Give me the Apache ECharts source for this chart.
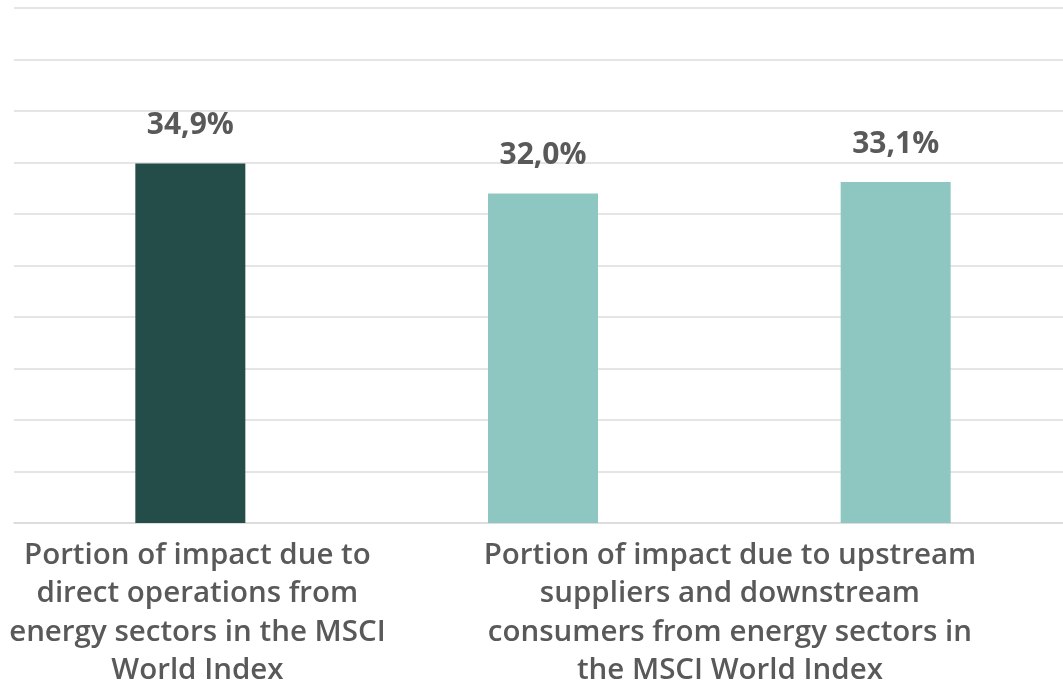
<!DOCTYPE html>
<html>
<head>
<meta charset="utf-8">
<script src="https://cdn.jsdelivr.net/npm/echarts@6/dist/echarts.min.js"></script>
<style>
  html, body { margin: 0; padding: 0; background: #ffffff; }
  #chart { width: 1063px; height: 686px; }
</style>
</head>
<body>
<div id="chart"></div>
<script>
// Share of impact: direct operations vs. upstream / downstream value chain
const barKeys = ['direct', 'upstream', 'downstream'];
const barValues = [34.9, 32.0, 33.1];
const barColors = ['#244c49', '#8ec7c1', '#8ec7c1'];

// Group labels: the first sits under bar 1, the second spans bars 2 and 3
const groupLabels = [
  'Portion of impact due to\ndirect operations from\nenergy sectors in the MSCI\nWorld Index',
  'Portion of impact due to upstream\nsuppliers and downstream\nconsumers from energy sectors in\nthe MSCI World Index'
];
// Positions of the group labels on a 0..3 scale (bar slots are 0-1, 1-2, 2-3)
const groupLabelPositions = [0.52, 2.03];

const yMin = 0, yMax = 50, yStep = 5;

const fmtPct = v => v.toFixed(1).replace('.', ',') + '%';

const chart = echarts.init(document.getElementById('chart'), null, { renderer: 'canvas' });

chart.setOption({
  animation: false,
  backgroundColor: '#ffffff',
  grid: { left: 14, width: 1058, top: 8, bottom: 163, containLabel: false, outerBoundsMode: 'none' },
  xAxis: [
    {
      type: 'category',
      data: barKeys,
      axisLine: { show: true, lineStyle: { color: '#d9d9d9', width: 1.5 } },
      axisTick: { show: false },
      axisLabel: { show: false }
    },
    {
      type: 'value',
      position: 'bottom',
      min: 0, max: 3,
      axisLine: { show: false },
      axisTick: { show: false },
      splitLine: { show: false },
      axisLabel: {
        show: true,
        customValues: groupLabelPositions,
        margin: 13,
        fontFamily: 'Open Sans',
        fontWeight: 600,
        fontSize: 29.5,
        lineHeight: 38.5,
        color: '#595959',
        align: 'center',
        formatter: function (v) {
          const i = groupLabelPositions.findIndex(p => Math.abs(p - v) < 1e-6);
          return i >= 0 ? groupLabels[i] : '';
        }
      }
    }
  ],
  yAxis: {
    type: 'value',
    min: yMin, max: yMax, interval: yStep,
    axisLine: { show: false },
    axisTick: { show: false },
    axisLabel: { show: false },
    splitLine: { show: true, lineStyle: { color: '#dcdcdc', width: 1.5 } }
  },
  series: [{
    type: 'bar',
    xAxisIndex: 0,
    barWidth: 110,
    data: barValues.map((v, i) => ({ value: v, itemStyle: { color: barColors[i] } })),
    label: {
      show: true,
      position: 'top',
      distance: 23,
      fontFamily: 'Open Sans',
      fontWeight: 700,
      fontSize: 30,
      color: '#595959',
      formatter: p => fmtPct(p.value)
    }
  }]
});
</script>
</body>
</html>
